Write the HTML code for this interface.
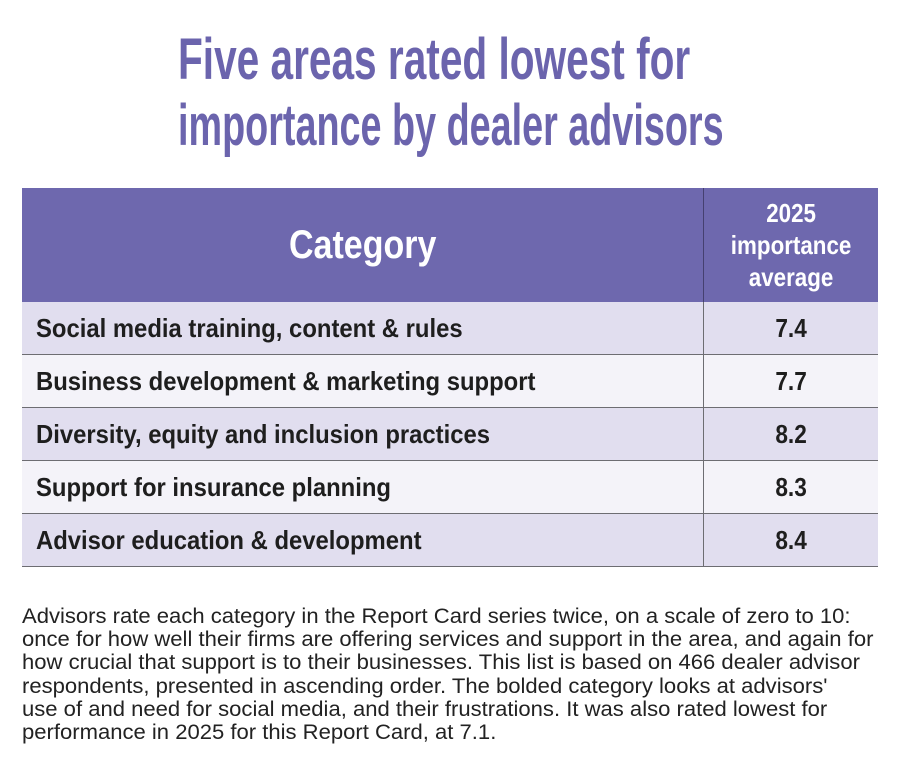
<!DOCTYPE html>
<html><head><meta charset="utf-8">
<style>
body{margin:0;background:#fff;width:900px;height:771px;overflow:hidden;font-family:"Liberation Sans Narrow","Liberation Sans",sans-serif;}
.tl{position:absolute;color:#6b64ad;font-weight:bold;font-size:58px;line-height:66px;white-space:nowrap;transform-origin:left top}
table{position:absolute;left:22px;top:188px;width:856px;border-collapse:collapse;}
th{background:#6e68ae;color:#fff;font-weight:bold;height:114px;padding:0}
th span{display:inline-block;white-space:nowrap}
th.cat{font-size:40px;text-align:center;width:681px;border-right:1px solid #454070}
th.cat span{transform:scaleX(0.85)}
th.val{font-size:26px;line-height:32px;text-align:center}
th.val span{transform:scaleX(0.86)}
td{height:52px;font-size:26px;font-weight:bold;color:#1e1e1e;padding:0;border-bottom:1.5px solid #6d6d72;white-space:nowrap}
td.c{padding-left:14px;border-right:1px solid #6d6d72}
td span{display:inline-block;transform:scaleX(0.917);transform-origin:left center}
td.v{text-align:center}
td.v span{transform:scaleX(0.87);transform-origin:center}
tr.a td{background:#e1deef}
tr.b td{background:#f4f3f9}
.note{position:absolute;left:22px;top:605px;font-size:21px;line-height:23.2px;color:#222;white-space:nowrap;transform:scaleX(1.05);transform-origin:left top}
</style></head><body>
<div>
<div class="tl" style="left:178px;top:27px;transform:scaleX(0.7)">Five areas rated lowest for</div>
<div class="tl" style="left:178px;top:93px;transform:scaleX(0.651)">importance by dealer advisors</div>
</div>
<table>
<thead><tr><th class="cat"><span>Category</span></th><th class="val"><span>2025<br>importance<br>average</span></th></tr></thead>
<tbody id="tb"></tbody>
</table>
<div class="note">Advisors rate each category in the Report Card series twice, on a scale of zero to 10:<br>once for how well their firms are offering services and support in the area, and again for<br>how crucial that support is to their businesses. This list is based on 466 dealer advisor<br>respondents, presented in ascending order. The bolded category looks at advisors'<br>use of and need for social media, and their frustrations. It was also rated lowest for<br>performance in 2025 for this Report Card, at 7.1.</div>
<script>
const categories=["Social media training, content & rules","Business development & marketing support","Diversity, equity and inclusion practices","Support for insurance planning","Advisor education & development"];
const values=["7.4","7.7","8.2","8.3","8.4"];
const tb=document.getElementById('tb');
categories.forEach((c,i)=>{
  const tr=document.createElement('tr');
  tr.className=i%2?'b':'a';
  
  
  const t1=document.createElement('td');t1.className='c';
  const s1=document.createElement('span');s1.textContent=c;t1.appendChild(s1);
  
  
  const t2=document.createElement('td');t2.className='v';
  const s2=document.createElement('span');s2.textContent=values[i];t2.appendChild(s2);
  
  
  tr.appendChild(t1);tr.appendChild(t2);tb.appendChild(tr);
});
</script>
</body></html>
